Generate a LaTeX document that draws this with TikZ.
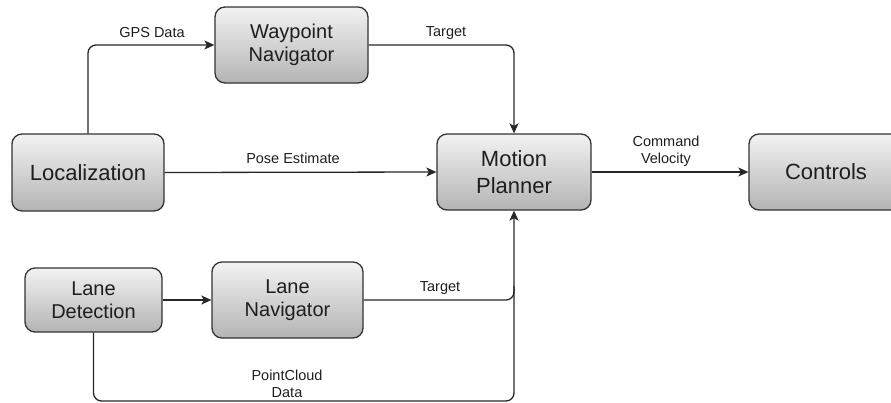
\documentclass[tikz,border=0pt]{standalone}
\usepackage{fontspec}
\setmainfont{Liberation Sans}
\usetikzlibrary{arrows.meta}
\definecolor{boxtop}{HTML}{F2F2F2}
\definecolor{boxbot}{HTML}{B4B4B4}
\definecolor{edge}{HTML}{333333}
\definecolor{txt}{HTML}{1E1E1E}
\begin{document}
\begin{tikzpicture}[x=1pt,y=-1pt,
  blk/.style={draw=edge, line width=1.3pt, rounded corners=10pt,
    top color=boxtop, bottom color=boxbot, align=center, text=txt,
    inner sep=0pt},
  big/.style={font=\fontsize{22}{27}\selectfont},
  small/.style={font=\fontsize{20}{23.5}\selectfont},
  lbl/.style={font=\fontsize{14.5}{17}\selectfont, text=txt, align=center, inner sep=0pt},
  conn/.style={draw=black!85, line width=1.3pt, rounded corners=8pt},
  arr/.style={conn, -{Stealth[length=10pt,width=9pt,inset=2.5pt]}}]
\useasboundingbox (0,0) rectangle (891,402);
\node[blk, big, minimum width=152pt, minimum height=77pt] (loc) at (88,172.5) {Localization};
\node[blk, small, minimum width=153pt, minimum height=76pt] (wp) at (291.5,45) {Waypoint\\Navigator};
\node[blk, big, minimum width=154pt, minimum height=76pt] (mp) at (514,172) {Motion\\Planner};
\node[blk, big, minimum width=154pt, minimum height=76pt] (ctl) at (826,172) {Controls};
\node[blk, small, minimum width=137pt, minimum height=64pt] (ld) at (93.5,300) {Lane\\Detection};
\node[blk, small, minimum width=151pt, minimum height=76pt] (ln) at (287.5,300) {Lane\\Navigator};
\coordinate (gpsc) at (88,45);
\coordinate (tgc) at (514,45);
\coordinate (ltc) at (514,300);
\coordinate (pc1) at (93.5,401);
\coordinate (pc2) at (514,401);
\draw[arr] (loc.north) -- (gpsc) -- (wp.west);
\draw[arr] (wp.east) -- (tgc) -- (mp.north);
\draw[arr] (loc.east) -- (mp.west);
\draw[arr] (mp.east) -- (ctl.west);
\draw[arr] (ld.east) -- (ln.west);
\draw[conn] (ln.east) -- (ltc) -- ([yshift=14pt]ltc);
\draw[arr] (ld.south) -- (pc1) -- (pc2) -- (mp.south);
\node[lbl] (l1) at (152,33) {GPS Data};
\node[lbl] (l2) at (446,33) {Target};
\node[lbl] (l3) at (293,158) {Pose Estimate};
\node[lbl] (l4) at (666,151.5) {Command\\Velocity};
\node[lbl] (l5) at (440,288) {Target};
\node[lbl] (l6) at (287,384) {PointCloud\\Data};
\end{tikzpicture}
\end{document}
